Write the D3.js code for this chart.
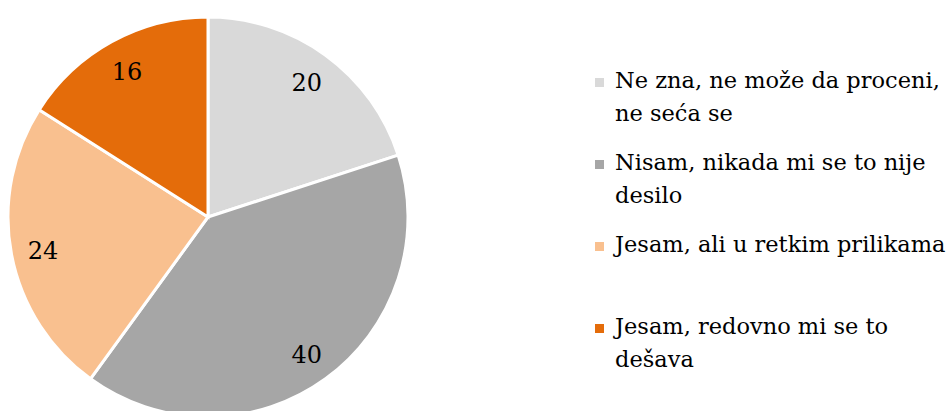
<!DOCTYPE html>
<html>
<head>
<meta charset="utf-8">
<script src="https://cdn.jsdelivr.net/npm/d3@7"></script>
<style>
  body { margin: 0; background: #fff; }
  text { font-family: "DejaVu Serif", serif; }
</style>
</head>
<body>
<div id="chart"></div>
<script>
// data
var categories = [
  "Ne zna, ne može da proceni,\nne seća se",
  "Nisam, nikada mi se to nije\ndesilo",
  "Jesam, ali u retkim prilikama",
  "Jesam, redovno mi se to\ndešava"
];
var values = [20, 40, 24, 16];
var colors = ["#d9d9d9", "#a6a6a6", "#f9c08f", "#e46c0a"];

var width = 948, height = 411;
var cx = 208, cy = 217, radius = 200;

var svg = d3.select("#chart")
  .append("svg")
  .attr("width", width)
  .attr("height", height);

var pie = d3.pie().sort(null).value(function(d) { return d; });
var arcs = pie(values);

var arc = d3.arc().innerRadius(0).outerRadius(radius);
var labelArc = d3.arc().innerRadius(radius * 0.84).outerRadius(radius * 0.84);

var g = svg.append("g").attr("transform", "translate(" + cx + "," + cy + ")");

g.selectAll("path")
  .data(arcs)
  .enter()
  .append("path")
  .attr("d", arc)
  .style("fill", function(d, i) { return colors[i]; })
  .style("stroke", "#fff")
  .style("stroke-width", 3);

g.selectAll(".lbl")
  .data(arcs)
  .enter()
  .append("text")
  .attr("class", "lbl")
  .attr("transform", function(d) { return "translate(" + labelArc.centroid(d) + ")"; })
  .attr("text-anchor", "middle")
  .attr("dy", "0.42em")
  .style("font-size", "24px")
  .style("fill", "#000")
  .text(function(d) { return d.value; });

// legend
var legend = svg.append("g").attr("transform", "translate(595,0)");

var rows = legend.selectAll(".row")
  .data(categories)
  .enter()
  .append("g")
  .attr("class", "row")
  .attr("transform", function(d, i) { return "translate(0," + (88 + i * 82) + ")"; });

rows.append("rect")
  .attr("x", 0)
  .attr("y", -10)
  .attr("width", 9)
  .attr("height", 9)
  .style("fill", function(d, i) { return colors[i]; });

rows.append("text")
  .attr("x", 20)
  .attr("y", 0)
  .style("font-size", "22.5px")
  .style("fill", "#000")
  .selectAll("tspan")
  .data(function(d) { return d.split("\n"); })
  .enter()
  .append("tspan")
  .attr("x", 20)
  .attr("dy", function(d, i) { return i == 0 ? 0 : 33; })
  .text(function(d) { return d; });
</script>
</body>
</html>
